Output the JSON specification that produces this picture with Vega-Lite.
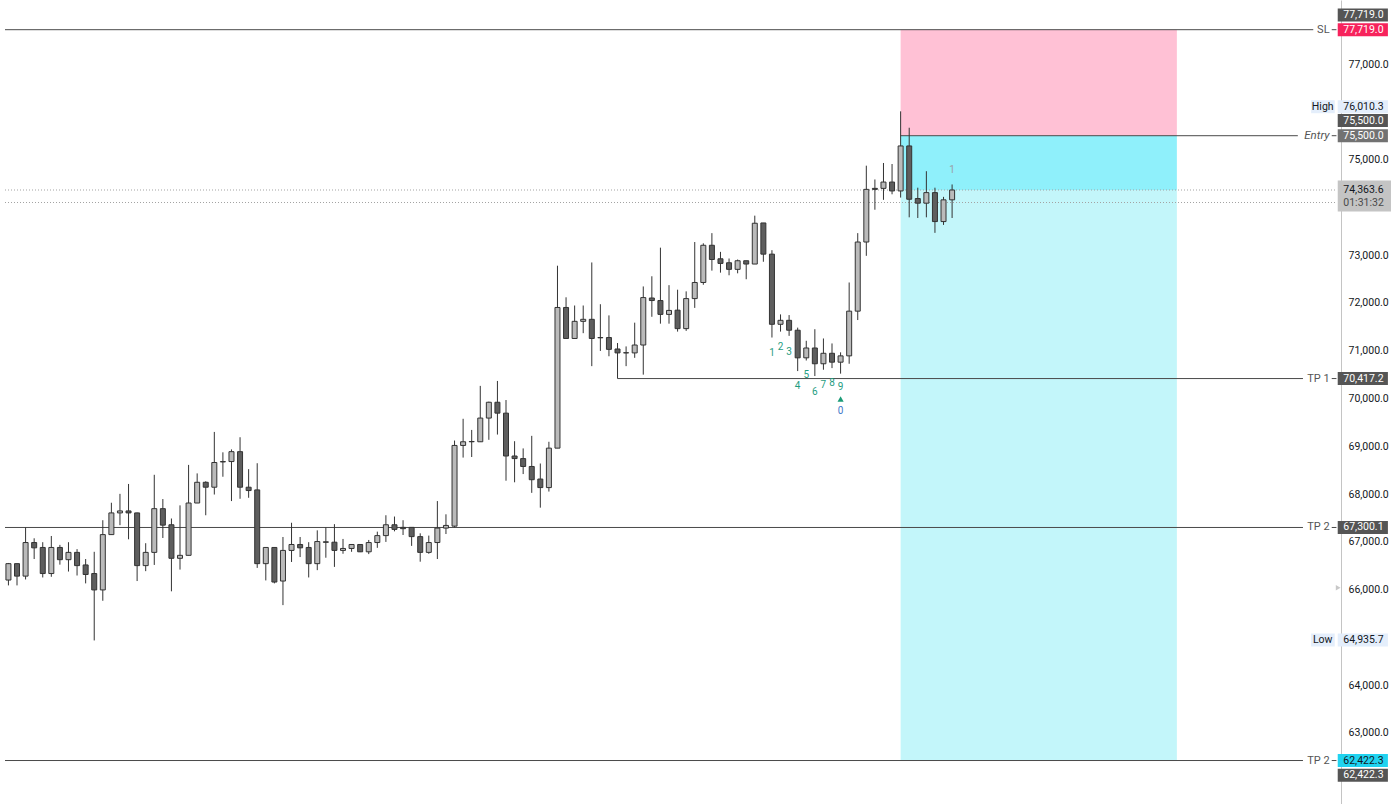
{
  "$schema": "https://vega.github.io/schema/vega-lite/v6.json",
  "width": 1396,
  "height": 804,
  "autosize": {"type": "none"},
  "padding": 0,
  "background": "#ffffff",
  "config": {"view": {"stroke": null}, "font": "Liberation Sans Narrow, Roboto, sans-serif"},
  "resolve": {"scale": {"color": "independent"}},
  "datasets": {
    "candles": [
      {"i":1,"o":66200,"h":66557,"l":66088,"c":66543},{"i":2,"o":66543,"h":66543,"l":66088,"c":66282},
      {"i":3,"o":66282,"h":67302,"l":66212,"c":66985},{"i":4,"o":66985,"h":67074,"l":66640,"c":66874},
      {"i":5,"o":66882,"h":66992,"l":66254,"c":66336},{"i":6,"o":66336,"h":67122,"l":66268,"c":66882},
      {"i":7,"o":66882,"h":66936,"l":66522,"c":66626},{"i":8,"o":66626,"h":66992,"l":66378,"c":66779},
      {"i":9,"o":66779,"h":66847,"l":66295,"c":66502},{"i":10,"o":66516,"h":66640,"l":66130,"c":66316},
      {"i":11,"o":66336,"h":66791,"l":64935.7,"c":65993},{"i":12,"o":65993,"h":67452,"l":65766,"c":67151},
      {"i":13,"o":67151,"h":67818,"l":67151,"c":67605},{"i":14,"o":67605,"h":68004,"l":67349,"c":67647},
      {"i":15,"o":67647,"h":68211,"l":67053,"c":67605},{"i":16,"o":67605,"h":67611,"l":66179,"c":66502},
      {"i":17,"o":66502,"h":66971,"l":66386,"c":66779},{"i":18,"o":66779,"h":68403,"l":66516,"c":67694},
      {"i":19,"o":67694,"h":67895,"l":67080,"c":67349},{"i":20,"o":67357,"h":67488,"l":65964,"c":66655},
      {"i":21,"o":66655,"h":67763,"l":66419,"c":66717},{"i":22,"o":66717,"h":68610,"l":66717,"c":67812},
      {"i":23,"o":67812,"h":68432,"l":67812,"c":68246},{"i":24,"o":68246,"h":68267,"l":67556,"c":68143},
      {"i":25,"o":68143,"h":69300,"l":67990,"c":68660},{"i":26,"o":68672,"h":68873,"l":68362,"c":68680},
      {"i":27,"o":68680,"h":68934,"l":67853,"c":68887},{"i":28,"o":68887,"h":69189,"l":67901,"c":68143},
      {"i":29,"o":68143,"h":68521,"l":67922,"c":68073},{"i":30,"o":68087,"h":68645,"l":66454,"c":66543},
      {"i":31,"o":66543,"h":66882,"l":66192,"c":66882},{"i":32,"o":66882,"h":66882,"l":66130,"c":66158},
      {"i":33,"o":66179,"h":67101,"l":65675,"c":66820},{"i":34,"o":66820,"h":67399,"l":66578,"c":66944},
      {"i":35,"o":66944,"h":67101,"l":66681,"c":66874},{"i":36,"o":66882,"h":66992,"l":66254,"c":66543},
      {"i":37,"o":66543,"h":67240,"l":66407,"c":67006},{"i":38,"o":67000,"h":67302,"l":66667,"c":66990},
      {"i":39,"o":66992,"h":67370,"l":66475,"c":66820},{"i":40,"o":66820,"h":67060,"l":66750,"c":66861},
      {"i":41,"o":66861,"h":66950,"l":66791,"c":66944},{"i":42,"o":66944,"h":66950,"l":66785,"c":66791},
      {"i":43,"o":66791,"h":67039,"l":66743,"c":66985},{"i":44,"o":66985,"h":67213,"l":66874,"c":67130},
      {"i":45,"o":67130,"h":67556,"l":66998,"c":67357},{"i":46,"o":67357,"h":67529,"l":67219,"c":67260},
      {"i":47,"o":67302,"h":67452,"l":67143,"c":67275},{"i":48,"o":67302,"h":67302,"l":66915,"c":67109},
      {"i":49,"o":67109,"h":67178,"l":66584,"c":66779},{"i":50,"o":66779,"h":67130,"l":66750,"c":66985},
      {"i":51,"o":66985,"h":67853,"l":66640,"c":67287},{"i":52,"o":67287,"h":67576,"l":67163,"c":67343},
      {"i":53,"o":67328,"h":69120,"l":67302,"c":69017},{"i":54,"o":69017,"h":69575,"l":68763,"c":69094},
      {"i":55,"o":69094,"h":69342,"l":68775,"c":69100},{"i":56,"o":69094,"h":70264,"l":69094,"c":69590},
      {"i":57,"o":69590,"h":69934,"l":69135,"c":69921},{"i":58,"o":69921,"h":70367,"l":69245,"c":69693},
      {"i":59,"o":69693,"h":69968,"l":68279,"c":68796},{"i":60,"o":68796,"h":69106,"l":68246,"c":68742},
      {"i":61,"o":68742,"h":68955,"l":68418,"c":68577},{"i":62,"o":68577,"h":69218,"l":68025,"c":68300},
      {"i":63,"o":68314,"h":68639,"l":67715,"c":68135},{"i":64,"o":68135,"h":69094,"l":68052,"c":68961},
      {"i":65,"o":68961,"h":72779,"l":68961,"c":71905},{"i":66,"o":71905,"h":72118,"l":71256,"c":71256},
      {"i":67,"o":71256,"h":71946,"l":71256,"c":71615},{"i":68,"o":71615,"h":71946,"l":71367,"c":71657},
      {"i":69,"o":71657,"h":72847,"l":70677,"c":71256},{"i":70,"o":71270,"h":71973,"l":70995,"c":71276},
      {"i":71,"o":71276,"h":71739,"l":70884,"c":71028},{"i":72,"o":71036,"h":71161,"l":70417.2,"c":70954},
      {"i":73,"o":70954,"h":71090,"l":70677,"c":70958},{"i":74,"o":70954,"h":71587,"l":70851,"c":71119},
      {"i":75,"o":71119,"h":72345,"l":70499,"c":72112},{"i":76,"o":72103,"h":72558,"l":71710,"c":72050},
      {"i":77,"o":72050,"h":73157,"l":71566,"c":71760},{"i":78,"o":71760,"h":72372,"l":71566,"c":71843},
      {"i":79,"o":71849,"h":72277,"l":71400,"c":71462},{"i":80,"o":71462,"h":72242,"l":71415,"c":72091},
      {"i":81,"o":72091,"h":73275,"l":71896,"c":72428},{"i":82,"o":72428,"h":73248,"l":72380,"c":73207},
      {"i":83,"o":73207,"h":73461,"l":72676,"c":72909},{"i":84,"o":72924,"h":73069,"l":72634,"c":72827},
      {"i":85,"o":72841,"h":72930,"l":72579,"c":72703},{"i":86,"o":72703,"h":72909,"l":72620,"c":72883},
      {"i":87,"o":72883,"h":72883,"l":72496,"c":72814},{"i":88,"o":72814,"h":73827,"l":72814,"c":73668},
      {"i":89,"o":73674,"h":73674,"l":72862,"c":73021},{"i":90,"o":73021,"h":73104,"l":71276,"c":71553},
      {"i":91,"o":71553,"h":71760,"l":71400,"c":71636},{"i":92,"o":71636,"h":71746,"l":71311,"c":71429},
      {"i":93,"o":71429,"h":71483,"l":70574,"c":70851},{"i":94,"o":70851,"h":71208,"l":70795,"c":71057},
      {"i":95,"o":71057,"h":71450,"l":70470,"c":70727},{"i":96,"o":70727,"h":71256,"l":70602,"c":70946},
      {"i":97,"o":70946,"h":71152,"l":70636,"c":70760},{"i":98,"o":70760,"h":70966,"l":70520,"c":70892},
      {"i":99,"o":70892,"h":72428,"l":70727,"c":71828},{"i":100,"o":71828,"h":73461,"l":71642,"c":73275},
      {"i":101,"o":73275,"h":74873,"l":72986,"c":74377},{"i":102,"o":74398,"h":74584,"l":73951,"c":74377},
      {"i":103,"o":74398,"h":74929,"l":74158,"c":74530},{"i":104,"o":74530,"h":74908,"l":74274,"c":74344},
      {"i":105,"o":74344,"h":76010.3,"l":74205,"c":75286},{"i":106,"o":75286,"h":75667,"l":73792,"c":74170},
      {"i":107,"o":74185,"h":74412,"l":73778,"c":74088},{"i":108,"o":74088,"h":74757,"l":73792,"c":74309},
      {"i":109,"o":74309,"h":74412,"l":73467,"c":73703},{"i":110,"o":73703,"h":74220,"l":73633,"c":74158},
      {"i":111,"o":74158,"h":74480,"l":73778,"c":74363.6}
    ],
    "zones": [
      {"zone":"stop","a":105,"b":137.2,"lo":75500,"hi":77719},
      {"zone":"open","a":105,"b":137.2,"lo":74363.6,"hi":75500},
      {"zone":"target","a":105,"b":137.2,"lo":62422.3,"hi":74363.6}
    ],
    "levels": [
      {"label":"SL","p":77719,"a":0.6,"b":153.1},
      {"label":"Entry","p":75500,"a":105,"b":151.3},
      {"label":"TP 1","p":70417.2,"a":72,"b":151.9},
      {"label":"TP 2","p":67300.1,"a":0.6,"b":151.9},
      {"label":"TP 2","p":62422.3,"a":0.6,"b":151.9}
    ],
    "dotted": [{"p":74363.6},{"p":74102}],
    "tags": [
      {"txt":"77,719.0","p":78029,"kind":"dark"},
      {"txt":"77,719.0","p":77719,"kind":"sl"},
      {"txt":"76,010.3","p":76107,"kind":"hl"},
      {"txt":"75,500.0","p":75818,"kind":"dark"},
      {"txt":"75,500.0","p":75500,"kind":"mid"},
      {"txt":"70,417.2","p":70417.2,"kind":"dark"},
      {"txt":"67,300.1","p":67300.1,"kind":"dark"},
      {"txt":"64,935.7","p":64945,"kind":"hl"},
      {"txt":"62,422.3","p":62422.3,"kind":"tp"},
      {"txt":"62,422.3","p":62113,"kind":"dark"}
    ],
    "extremes": [{"w":"High","p":76107},{"w":"Low","p":64945}],
    "last": [{"txt":"74,363.6","p":74363.6,"row":"price"},{"txt":"01:31:32","p":74100,"row":"timer"}],
    "seq": [
      {"i":90,"p":70946,"t":"1","k":"setup"},{"i":91,"p":71084,"t":"2","k":"setup"},
      {"i":92,"p":70981,"t":"3","k":"setup"},{"i":93,"p":70264,"t":"4","k":"setup"},
      {"i":94,"p":70485,"t":"5","k":"setup"},{"i":95,"p":70139,"t":"6","k":"setup"},
      {"i":96,"p":70278,"t":"7","k":"setup"},{"i":97,"p":70334,"t":"8","k":"setup"},
      {"i":98,"p":70231,"t":"9","k":"setup"},{"i":98,"p":69747,"t":"0","k":"count"},
      {"i":111,"p":74784,"t":"1","k":"next"}
    ],
    "signal": [{"i":98,"p":69989}]
  },
  "layer": [
    {
      "data": {"name": "zones"},
      "mark": {"type": "rect"},
      "encoding": {
        "x": {"field":"a","type":"quantitative","scale":{"domain":[0.6,162.16],"nice":false,"zero":false},"axis":null},
        "x2": {"field":"b"},
        "y": {"field":"lo","type":"quantitative","scale":{"domain":[61617,78236],"nice":false,"zero":false},
          "axis":{"orient":"right","offset":-55,"values":[63000,64000,66000,67000,68000,69000,70000,71000,72000,73000,75000,77000],
            "format":",.1f","title":null,"grid":false,"ticks":false,"domainColor":"#c4c4c4","labelColor":"#131722",
            "labelFontSize":10.5,"labelPadding":7,"labelOverlap":false,"labelFont":"Liberation Sans Narrow, Roboto, sans-serif"}},
        "y2": {"field":"hi"},
        "color": {"field":"zone","type":"nominal","legend":null,
          "scale":{"domain":["stop","open","target"],"range":["#ffc1d5","#8ff0fb","#c3f6fa"]}}
      }
    },
    {
      "data": {"name": "dotted"},
      "mark": {"type": "rule", "color": "#a3a3a3", "strokeDash": [1, 2], "strokeWidth": 1},
      "encoding": {
        "x": {"datum": 0.6, "type":"quantitative","scale":{"domain":[0.6,162.16],"nice":false,"zero":false},"axis":null},
        "x2": {"datum": 155.8},
        "y": {"field":"p","type":"quantitative","scale":{"domain":[61617,78236],"nice":false,"zero":false}}
      }
    },
    {
      "data": {"name": "levels"},
      "mark": {"type": "rule", "color": "#4a4a4a", "strokeWidth": 1},
      "encoding": {
        "x": {"field":"a","type":"quantitative","scale":{"domain":[0.6,162.16],"nice":false,"zero":false},"axis":null},
        "x2": {"field":"b"},
        "y": {"field":"p","type":"quantitative","scale":{"domain":[61617,78236],"nice":false,"zero":false}}
      }
    },
    {
      "data": {"name": "levels"},
      "mark": {"type": "rule", "color": "#4a4a4a", "strokeWidth": 1},
      "encoding": {
        "x": {"datum": 155.25, "type":"quantitative","scale":{"domain":[0.6,162.16],"nice":false,"zero":false},"axis":null},
        "x2": {"datum": 155.8},
        "y": {"field":"p","type":"quantitative","scale":{"domain":[61617,78236],"nice":false,"zero":false}}
      }
    },
    {
      "data": {"name": "levels"},
      "transform": [{"filter": "datum.label != 'Entry'"}],
      "mark": {"type": "text", "align": "right", "baseline": "middle", "fontSize": 11, "color": "#555555", "font": "Roboto"},
      "encoding": {
        "x": {"datum": 155.0, "type":"quantitative","scale":{"domain":[0.6,162.16],"nice":false,"zero":false},"axis":null},
        "y": {"field":"p","type":"quantitative","scale":{"domain":[61617,78236],"nice":false,"zero":false}},
        "text": {"field":"label"}
      }
    },
    {
      "data": {"name": "levels"},
      "transform": [{"filter": "datum.label == 'Entry'"}],
      "mark": {"type": "text", "align": "right", "baseline": "middle", "fontSize": 11.5, "fontStyle": "italic", "color": "#555555", "font": "Roboto"},
      "encoding": {
        "x": {"datum": 155.0, "type":"quantitative","scale":{"domain":[0.6,162.16],"nice":false,"zero":false},"axis":null},
        "y": {"field":"p","type":"quantitative","scale":{"domain":[61617,78236],"nice":false,"zero":false}},
        "text": {"field":"label"}
      }
    },
    {
      "data": {"name": "candles"},
      "mark": {"type": "rule", "color": "#333333", "strokeWidth": 1},
      "encoding": {
        "x": {"field":"i","type":"quantitative","scale":{"domain":[0.6,162.16],"nice":false,"zero":false},"axis":null},
        "y": {"field":"l","type":"quantitative","scale":{"domain":[61617,78236],"nice":false,"zero":false}},
        "y2": {"field":"h"}
      }
    },
    {
      "data": {"name": "candles"},
      "mark": {"type": "bar", "stroke": "#333333", "strokeWidth": 1, "size": 5},
      "encoding": {
        "x": {"field":"i","type":"quantitative","scale":{"domain":[0.6,162.16],"nice":false,"zero":false},"axis":null},
        "y": {"field":"o","type":"quantitative","scale":{"domain":[61617,78236],"nice":false,"zero":false}},
        "y2": {"field":"c"},
        "color": {"condition": {"test": "datum.c >= datum.o", "value": "#bababa"}, "value": "#5e5e5e"}
      }
    },
    {
      "data": {"name": "seq"},
      "mark": {"type": "text", "align": "center", "baseline": "middle", "fontSize": 10, "font": "Roboto"},
      "encoding": {
        "x": {"field":"i","type":"quantitative","scale":{"domain":[0.6,162.16],"nice":false,"zero":false},"axis":null},
        "y": {"field":"p","type":"quantitative","scale":{"domain":[61617,78236],"nice":false,"zero":false}},
        "text": {"field":"t"},
        "color": {"field":"k","type":"nominal","legend":null,
          "scale":{"domain":["setup","count","next"],"range":["#1f9d7f","#3f78c8","#9aa0a6"]}}
      }
    },
    {
      "data": {"name": "signal"},
      "mark": {"type": "point", "shape": "triangle-up", "filled": true, "size": 38, "color": "#1a9b76", "opacity": 1},
      "encoding": {
        "x": {"field":"i","type":"quantitative","scale":{"domain":[0.6,162.16],"nice":false,"zero":false},"axis":null},
        "y": {"field":"p","type":"quantitative","scale":{"domain":[61617,78236],"nice":false,"zero":false}}
      }
    },
    {
      "data": {"name": "tags"},
      "mark": {"type": "bar", "size": 13},
      "encoding": {
        "x": {"datum": 155.95, "type":"quantitative","scale":{"domain":[0.6,162.16],"nice":false,"zero":false},"axis":null},
        "x2": {"datum": 161.8},
        "y": {"field":"p","type":"quantitative","scale":{"domain":[61617,78236],"nice":false,"zero":false}},
        "color": {"field":"kind","type":"nominal","legend":null,
          "scale":{"domain":["dark","sl","hl","mid","tp"],"range":["#555555","#f7235c","#e4eefb","#727272","#20d3f0"]}}
      }
    },
    {
      "data": {"name": "extremes"},
      "mark": {"type": "bar", "size": 13, "color": "#e4eefb"},
      "encoding": {
        "x": {"datum": 152.85, "type":"quantitative","scale":{"domain":[0.6,162.16],"nice":false,"zero":false},"axis":null},
        "x2": {"datum": 155.6},
        "y": {"field":"p","type":"quantitative","scale":{"domain":[61617,78236],"nice":false,"zero":false}}
      }
    },
    {
      "data": {"name": "extremes"},
      "mark": {"type": "text", "align": "center", "baseline": "middle", "fontSize": 10.5, "color": "#131722"},
      "encoding": {
        "x": {"datum": 154.2, "type":"quantitative","scale":{"domain":[0.6,162.16],"nice":false,"zero":false},"axis":null},
        "y": {"field":"p","type":"quantitative","scale":{"domain":[61617,78236],"nice":false,"zero":false}},
        "text": {"field":"w"}
      }
    },
    {
      "data": {"name": "tags"},
      "mark": {"type": "text", "align": "left", "baseline": "middle", "fontSize": 10.5},
      "encoding": {
        "x": {"datum": 156.6, "type":"quantitative","scale":{"domain":[0.6,162.16],"nice":false,"zero":false},"axis":null},
        "y": {"field":"p","type":"quantitative","scale":{"domain":[61617,78236],"nice":false,"zero":false}},
        "text": {"field":"txt"},
        "color": {"condition": {"test": "datum.kind == 'hl' || datum.kind == 'tp'", "value": "#131722"}, "value": "#ffffff"}
      }
    },
    {
      "data": {"values": [{"p": 74240}]},
      "mark": {"type": "bar", "size": 31, "color": "#c4c4c4"},
      "encoding": {
        "x": {"datum": 155.95, "type":"quantitative","scale":{"domain":[0.6,162.16],"nice":false,"zero":false},"axis":null},
        "x2": {"datum": 162.16},
        "y": {"field":"p","type":"quantitative","scale":{"domain":[61617,78236],"nice":false,"zero":false}}
      }
    },
    {
      "data": {"name": "last"},
      "mark": {"type": "text", "align": "left", "baseline": "middle", "fontSize": 10.5},
      "encoding": {
        "x": {"datum": 156.6, "type":"quantitative","scale":{"domain":[0.6,162.16],"nice":false,"zero":false},"axis":null},
        "y": {"field":"p","type":"quantitative","scale":{"domain":[61617,78236],"nice":false,"zero":false}},
        "text": {"field":"txt"},
        "color": {"condition": {"test": "datum.row == 'price'", "value": "#131722"}, "value": "#4a4a4a"}
      }
    },
    {
      "data": {"values": [{"p": 66041}]},
      "mark": {"type": "point", "shape": "triangle-right", "filled": true, "size": 30, "color": "#c8c8c8", "opacity": 1},
      "encoding": {
        "x": {"datum": 156.0, "type":"quantitative","scale":{"domain":[0.6,162.16],"nice":false,"zero":false},"axis":null},
        "y": {"field":"p","type":"quantitative","scale":{"domain":[61617,78236],"nice":false,"zero":false}}
      }
    }
  ]
}
